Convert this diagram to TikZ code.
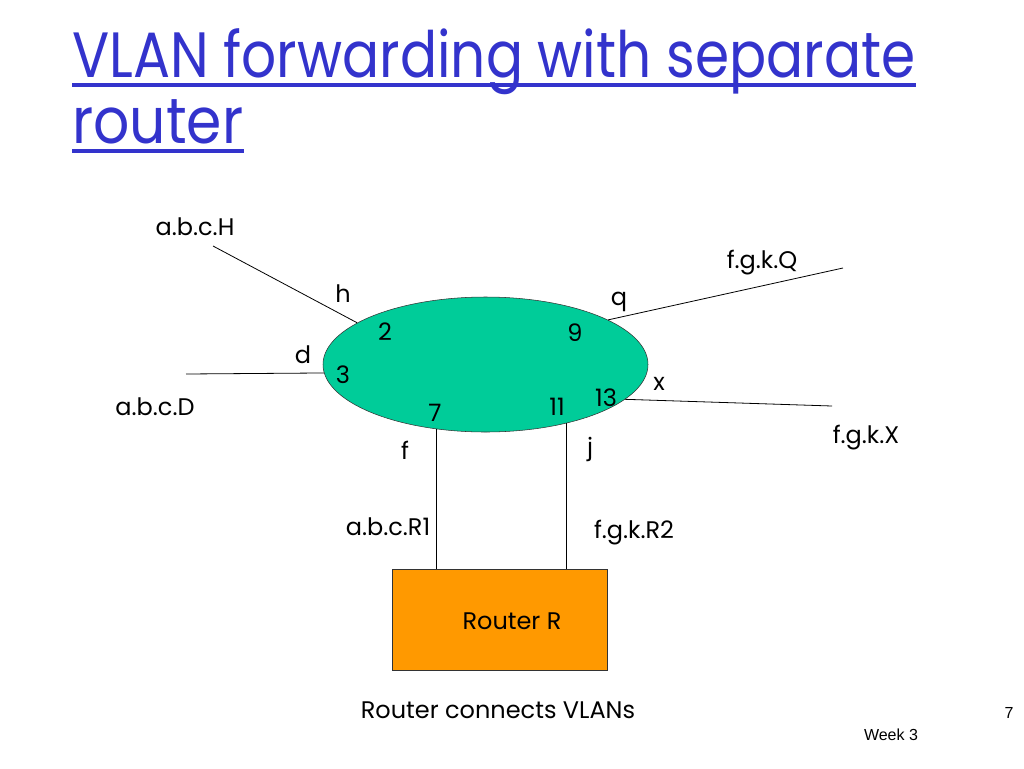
\documentclass[tikz,border=0pt]{standalone}
\usepackage{fontspec}
\setmainfont{Poppins}
\newfontfamily\arialfont{Liberation Sans}
\usetikzlibrary{shapes.geometric}
\definecolor{vlangreen}{RGB}{0,204,153}
\definecolor{routerorange}{RGB}{255,153,0}
\definecolor{titleblue}{RGB}{51,51,204}
\begin{document}
\begin{tikzpicture}[x=0.75pt,y=-0.75pt,
    lbl/.style={anchor=base,inner sep=0pt,font=\fontsize{18}{20}\selectfont},
    ttl/.style={anchor=base west,inner sep=0pt,text=titleblue,font=\fontsize{48}{50}\selectfont},
    link/.style={draw=black,line width=0.6pt}]
    \useasboundingbox (0,0) rectangle (1024,768);
    % title
    \node[ttl] (title1) at (72,77) {\resizebox{632.25pt}{\height}{VLAN forwarding with separate}};
    \node[ttl] (title2) at (72,143) {\resizebox{128.25pt}{\height}{router}};
    \draw[titleblue,line width=3pt] (title1.base west) ++(0,8) -- ([yshift=-6pt]title1.base east);
    \draw[titleblue,line width=3pt] (title2.base west) ++(0,8) -- ([yshift=-6pt]title2.base east);
    % switch and router
    \node[ellipse,draw=black!80,fill=vlangreen,minimum width=243.75pt,minimum height=101.25pt] (sw) at (485.5,364.5) {};
    \node[rectangle,draw=black!80,fill=routerorange,minimum width=161.25pt,minimum height=75.75pt] (rt) at (499.5,619.5) {};
    \node[lbl] (rtname) at (512,629) {Router R};
    % free ends of the links
    \coordinate (hostH) at (213,246);
    \coordinate (hostD) at (186,374);
    \coordinate (hostQ) at (843,268);
    \coordinate (hostX) at (832,406);
    \draw[link] (hostH) -- (sw.162.6);
    \draw[link] (hostD) -- (sw.183.4);
    \draw[link] (hostQ) -- (sw.20.1);
    \draw[link] (hostX) -- (sw.-14.3);
    \draw[link] (sw.233.6) -- (sw.233.6 |- rt.north);
    \draw[link] (sw.-36.1) -- (sw.-36.1 |- rt.north);
    % host names
    \node[lbl] (nameH) at (195,235) {a.b.c.H};
    \node[lbl] (nameD) at (155,415) {a.b.c.D};
    \node[lbl] (nameQ) at (762,268) {f.g.k.Q};
    \node[lbl] (nameX) at (866,443) {f.g.k.X};
    \node[lbl] (nameR1) at (388,535) {a.b.c.R1};
    \node[lbl] (nameR2) at (634,538) {f.g.k.R2};
    % interface letters
    \node[lbl] (ifh) at (343,302) {h};
    \node[lbl] (ifd) at (303,363) {d};
    \node[lbl] (ifq) at (619,305) {q};
    \node[lbl] (ifx) at (659,390) {x};
    \node[lbl] (iff) at (405,459) {f};
    \node[lbl] (ifj) at (590,455) {j};
    % port numbers
    \node[lbl] (port2) at (385,340) {2};
    \node[lbl] (port3) at (343,383) {3};
    \node[lbl] (port9) at (575,341) {9};
    \node[lbl] (port7) at (435,421) {7};
    \node[lbl] (port11) at (557,415) {11};
    \node[lbl] (port13) at (606,406) {13};
    % caption and footer
    \node[lbl] (caption) at (498,718) {Router connects VLANs};
    \node[anchor=base,inner sep=0pt,font=\arialfont\fontsize{12}{14}\selectfont] (pageno) at (1009,718) {7};
    \node[anchor=base,inner sep=0pt,font=\arialfont\fontsize{12}{14}\selectfont] (week) at (891,740) {Week 3};
\end{tikzpicture}
\end{document}
